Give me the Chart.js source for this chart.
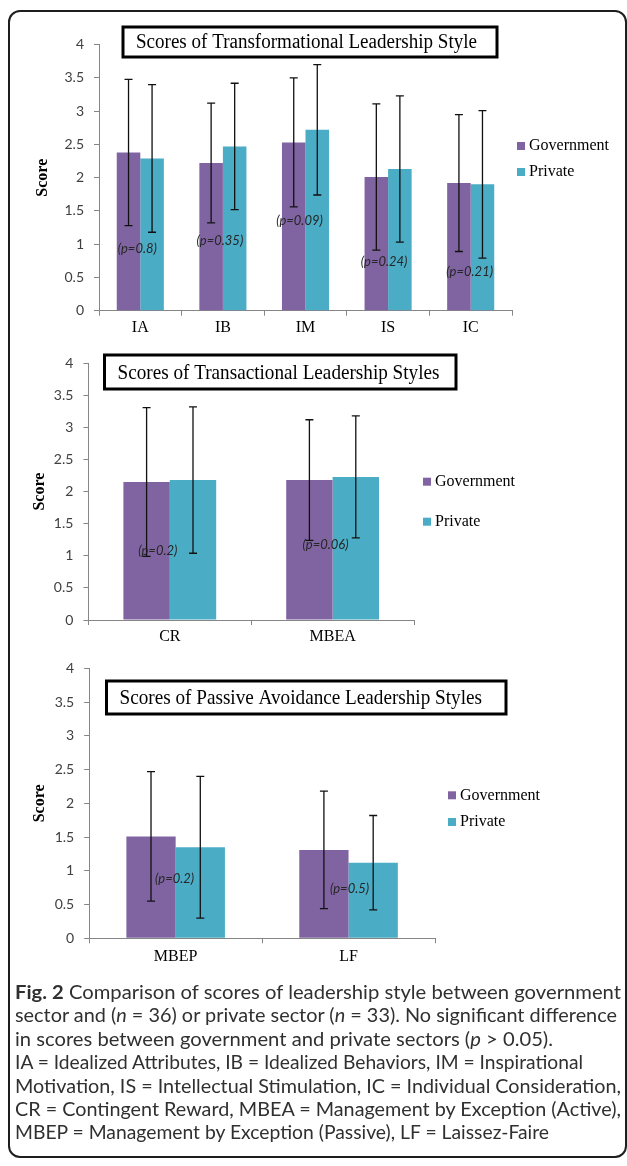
<!DOCTYPE html>
<html>
<head>
<meta charset="utf-8">
<script src="https://cdn.jsdelivr.net/npm/chart.js@4.4.0/dist/chart.umd.min.js"></script>
<style>
body { margin: 0; width: 627px; height: 1166px; background: #fff; position: relative; overflow: hidden; }
#frame { position: absolute; left: 8px; top: 10px; width: 615px; height: 1144px; border: 2px solid #1e1e1e; border-radius: 12px; }
canvas { position: absolute; left: 0; }
#caption { position: absolute; left: 15px; top: 980px; font-family: Lato, sans-serif; font-size: 19.5px; line-height: 23.4px; color: #303030; white-space: nowrap; }
#caption .ln { display: block; height: 23.4px; }
#caption .ln span { display: inline-block; transform-origin: 0 0; }
</style>
</head>
<body>
<div id="frame"></div>
<canvas id="c1"></canvas>
<canvas id="c2"></canvas>
<canvas id="c3"></canvas>
<div id="caption">
  <div class="ln"><span data-w="606"><b>Fig. 2</b> Comparison of scores of leadership style between government</span></div>
  <div class="ln"><span data-w="602">sector and (<i>n</i> = 36) or private sector (<i>n</i> = 33). No significant difference</span></div>
  <div class="ln"><span data-w="538">in scores between government and private sectors (<i>p</i> &gt; 0.05).</span></div>
  <div class="ln"><span data-w="568">IA = Idealized Attributes, IB = Idealized Behaviors, IM = Inspirational</span></div>
  <div class="ln"><span data-w="606">Motivation, IS = Intellectual Stimulation, IC = Individual Consideration,</span></div>
  <div class="ln"><span data-w="606">CR = Contingent Reward, MBEA = Management by Exception (Active),</span></div>
  <div class="ln"><span data-w="534">MBEP = Management by Exception (Passive), LF = Laissez-Faire</span></div>
</div>
<script>
// Transformational leadership
const transCats = ['IA', 'IB', 'IM', 'IS', 'IC'];
const transGov = [2.38, 2.22, 2.53, 2.01, 1.92];
const transGovSd = [1.10, 0.90, 0.97, 1.10, 1.03];
const transPriv = [2.29, 2.47, 2.72, 2.13, 1.90];
const transPrivSd = [1.11, 0.95, 0.98, 1.10, 1.11];
const transP = ['0.8', '0.35', '0.09', '0.24', '0.21'];

// Transactional leadership
const tactCats = ['CR', 'MBEA'];
const tactGov = [2.15, 2.18];
const tactGovSd = [1.16, 0.94];
const tactPriv = [2.18, 2.23];
const tactPrivSd = [1.14, 0.95];
const tactP = ['0.2', '0.06'];

// Passive avoidance leadership
const passCats = ['MBEP', 'LF'];
const passGov = [1.51, 1.31];
const passGovSd = [0.96, 0.87];
const passPriv = [1.35, 1.12];
const passPrivSd = [1.05, 0.70];
const passP = ['0.2', '0.5'];

const yTicks = [0, 0.5, 1, 1.5, 2, 2.5, 3, 3.5, 4];

//Draws error bars, p labels, title box, legend and the axis title
const decor = {
    id: 'decor',
    afterDatasetsDraw(chart, args, o) {
        const ctx = chart.ctx;
        const xs = chart.scales.x, ys = chart.scales.y;
        const t = o.top;
        const area = chart.chartArea;
        ctx.save();

        chart.data.datasets.forEach(function (ds, i) {
            chart.getDatasetMeta(i).data.forEach(function (bar, j) {
                const hi = ys.getPixelForValue(ds.data[j] + ds.sd[j]);
                const lo = ys.getPixelForValue(ds.data[j] - ds.sd[j]);
                ctx.strokeStyle = '#111';
                ctx.lineWidth = 1.3;
                ctx.beginPath();
                ctx.moveTo(bar.x, hi); ctx.lineTo(bar.x, lo);
                ctx.moveTo(bar.x - 4, hi); ctx.lineTo(bar.x + 4, hi);
                ctx.moveTo(bar.x - 4, lo); ctx.lineTo(bar.x + 4, lo);
                ctx.stroke();
            });
        });

        ctx.fillStyle = '#262626';
        ctx.font = 'italic 13px Lato';
        ctx.textAlign = 'center';
        ctx.textBaseline = 'middle';
        o.pValues.forEach(function (p, j) {
            const x = xs.getPixelForValue(j) + o.pShift[j];
            const y = ys.getPixelForValue(o.pAt[j]);
            ctx.fillText('(p=' + p + ')', x, y);
        });

        //title box
        const b = o.box;
        ctx.fillStyle = '#fff';
        ctx.fillRect(b.x, b.y - t, b.w, b.h);
        ctx.strokeStyle = '#000';
        ctx.lineWidth = 3;
        ctx.strokeRect(b.x, b.y - t, b.w, b.h);
        ctx.fillStyle = '#000';
        ctx.font = b.size + 'px "Liberation Serif"';
        ctx.textAlign = 'left';
        const w = ctx.measureText(o.title).width;
        ctx.save();
        ctx.translate(b.x + 13, b.y - t + b.h / 2 + 1);
        ctx.scale(b.textW / w, 1);
        ctx.fillText(o.title, 0, 0);
        ctx.restore();

        //legend
        ctx.font = '16px "Liberation Serif"';
        chart.data.datasets.forEach(function (ds, i) {
            const y = o.legend.y[i] - t;
            ctx.fillStyle = ds.backgroundColor;
            ctx.fillRect(o.legend.x, y - 4, 8, 8);
            ctx.fillStyle = '#000';
            ctx.fillText(ds.label, o.legend.x + 12, y);
        });

        //axis title
        ctx.save();
        ctx.translate(o.scoreX, (area.top + area.bottom) / 2);
        ctx.rotate(-Math.PI / 2);
        ctx.textAlign = 'center';
        ctx.font = 'bold 16px "Liberation Serif"';
        ctx.fillText('Score', 0, 0);
        ctx.restore();

        ctx.restore();
    }
};

function makeChart(id, cats, gov, govSd, priv, privSd, pValues, opt) {
    const canvas = document.getElementById(id);
    canvas.width = 627;
    canvas.height = opt.height;
    canvas.style.top = opt.top + 'px';
    return new Chart(canvas, {
        type: 'bar',
        data: {
            labels: cats,
            datasets: [
                { label: 'Government', data: gov, sd: govSd, backgroundColor: '#8064A2', categoryPercentage: 0.57, barPercentage: 1 },
                { label: 'Private', data: priv, sd: privSd, backgroundColor: '#4BACC6', categoryPercentage: 0.57, barPercentage: 1 }
            ]
        },
        options: {
            responsive: false,
            animation: false,
            devicePixelRatio: 1,
            layout: { padding: { top: opt.area.top - opt.top, right: 627 - opt.area.right, left: 0, bottom: 0 } },
            plugins: {
                legend: { display: false },
                tooltip: { enabled: false },
                decor: Object.assign({ pValues: pValues }, opt)
            },
            scales: {
                x: {
                    grid: { drawOnChartArea: false, color: '#868686', tickLength: 5, offset: true },
                    border: { color: '#868686' },
                    ticks: { color: '#000', font: { family: '"Liberation Serif"', size: 16 }, padding: opt.xPad },
                    afterFit: function (s) { s.height = opt.height - (opt.area.bottom - opt.top); }
                },
                y: {
                    min: 0, max: 4,
                    afterBuildTicks: function (s) { s.ticks = yTicks.map(function (v) { return { value: v }; }); },
                    ticks: {
                        color: '#404040', font: { family: 'Lato', size: 14 }, padding: 10,
                        callback: function (v) { return String(v); }
                    },
                    grid: { drawOnChartArea: false, color: '#868686', tickLength: 5 },
                    border: { color: '#868686' },
                    afterFit: function (s) { s.width = opt.area.left; }
                }
            }
        },
        plugins: [decor]
    });
}

makeChart('c1', transCats, transGov, transGovSd, transPriv, transPrivSd, transP, {
    top: 0, height: 345, xPad: 2,
    area: { left: 99, top: 44.7, right: 512, bottom: 310.7 },
    title: 'Scores of Transformational Leadership Style',
    box: { x: 123, y: 27, w: 374, h: 30, size: 20, textW: 341 },
    legend: { x: 517, y: [146, 172] },
    scoreX: 43,
    pAt: [0.93, 1.05, 1.35, 0.73, 0.58],
    pShift: [-3, -3, -6, -4, -1]
});

makeChart('c2', tactCats, tactGov, tactGovSd, tactPriv, tactPrivSd, tactP, {
    top: 340, height: 310, xPad: 2,
    area: { left: 88.4, top: 363.3, right: 414, bottom: 620 },
    title: 'Scores of Transactional Leadership Styles',
    box: { x: 104.5, y: 355, w: 351.5, h: 34, size: 21, textW: 322 },
    legend: { x: 423, y: [481.7, 521.7] },
    scoreX: 40,
    pAt: [1.08, 1.17],
    pShift: [-12, -7]
});

makeChart('c3', passCats, passGov, passGovSd, passPriv, passPrivSd, passP, {
    top: 650, height: 320, xPad: 4,
    area: { left: 89.2, top: 661, right: 435, bottom: 938.3 },
    title: 'Scores of Passive Avoidance Leadership Styles',
    box: { x: 106.5, y: 681, w: 399.5, h: 33, size: 21, textW: 362.5 },
    legend: { x: 448, y: [795.3, 822] },
    scoreX: 40,
    pAt: [0.88, 0.74],
    pShift: [-1, 1]
});

//squeeze each caption line to its width in the figure
for (let span of document.querySelectorAll('#caption .ln span')) {
    const w = span.getBoundingClientRect().width;
    span.style.transform = 'scaleX(' + (Number(span.dataset.w) / w) + ')';
}
</script>
</body>
</html>
